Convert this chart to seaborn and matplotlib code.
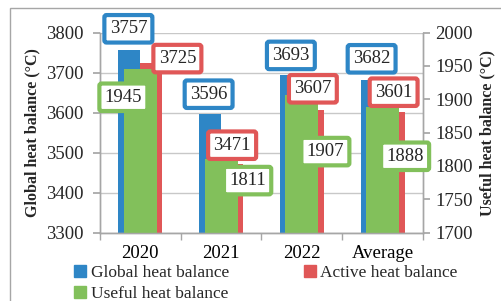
import numpy as np
import pandas as pd
import matplotlib
matplotlib.use('Agg')
import matplotlib.pyplot as plt
from matplotlib.patches import Patch, Rectangle
import seaborn as sns

# data
years = ['2020', '2021', '2022', 'Average']
global_heat = [3757, 3596, 3693, 3682]
active_heat = [3725, 3471, 3607, 3601]
useful_heat = [1945, 1811, 1907, 1888]

BLUE = '#2E86C6'
RED = '#E05757'
GREEN = '#82C05B'
GRID = '#C8C8C8'
SPINE = '#A6A6A6'

sns.set_theme(style='white')
plt.rcParams['font.family'] = ['Liberation Serif', 'DejaVu Serif']

df = pd.DataFrame({
    'year': years * 2,
    'value': global_heat + active_heat,
    'series': ['Global heat balance'] * 4 + ['Active heat balance'] * 4,
})

fig = plt.figure(figsize=(5.02, 3.01), dpi=100)
ax = fig.add_axes([100 / 502, 1 - 232.6 / 301, 323 / 502, 200 / 301])

sns.barplot(data=df, x='year', y='value', hue='series', order=years,
            hue_order=['Global heat balance', 'Active heat balance'],
            palette=[BLUE, RED], width=0.545, saturation=1, errorbar=None,
            linewidth=0, edgecolor='none', ax=ax, zorder=2)
ax.get_legend().remove()

ax2 = ax.twinx()
sns.barplot(x=years, y=useful_heat, order=years, color=GREEN, width=0.41,
            saturation=1, errorbar=None, linewidth=0, edgecolor='none',
            ax=ax2, zorder=2)

ax.set_ylim(3300, 3800)
ax.set_yticks(np.arange(3300, 3801, 100))
ax2.set_ylim(1700, 2000)
ax2.set_yticks(np.arange(1700, 2001, 50))
ax.set_xlim(-0.5, 3.5)
ax2.set_xlim(-0.5, 3.5)

ax.yaxis.grid(True, color=GRID, lw=1)
ax.set_axisbelow(True)
ax.set_xlabel('')
ax2.set_xlabel('')

for a in (ax, ax2):
    for s in a.spines.values():
        s.set_color(SPINE)
        s.set_linewidth(1)
    a.spines['top'].set_visible(False)

ax.set_xticks(range(4))
ax.set_xticklabels(years)
ax.set_xticks(np.arange(-0.5, 4, 1), minor=True)
ax.tick_params(axis='x', which='major', length=0, pad=9, labelsize=13.5, colors='black')
ax.tick_params(axis='x', which='minor', length=5, color=SPINE, direction='out', bottom=True)
ax.tick_params(axis='y', length=5, color=SPINE, direction='out', left=True, labelsize=13.5, pad=7)
ax2.tick_params(axis='y', length=5, color=SPINE, direction='out', right=True, labelsize=13.5, pad=4)

ax.set_ylabel('Global heat balance (°C)', fontsize=11.5, fontweight='bold')
ax2.set_ylabel('Useful heat balance (°C)', fontsize=11.5, fontweight='bold')
ax.yaxis.set_label_coords(-0.186, 0.5)
ax2.yaxis.set_label_coords(1.176, 0.5)

# label offsets in pixels (dx, dy up) from top centre of each bar
blue_off = [(-1, 21), (-1.5, 20), (0, 20), (0, 21)]
red_off = [(26, 4), (0, 19), (0, 21), (0, 20)]
green_off = [(-17, -28), (26.5, -22), (23.5, -57), (22.5, -49)]
px = 0.72
dodge = 0.545 / 4


def box(color):
    return dict(boxstyle='round,pad=0.28,rounding_size=0.12', fc='white',
                ec=color, lw=3)


for i in range(4):
    ax2.annotate(str(global_heat[i]), xy=(i - dodge, global_heat[i]),
                 xycoords=ax.transData, xytext=(blue_off[i][0] * px, blue_off[i][1] * px),
                 textcoords='offset points', ha='center', va='center',
                 fontsize=13.5, bbox=box(BLUE), zorder=5)
    ax2.annotate(str(active_heat[i]), xy=(i + dodge, active_heat[i]),
                 xycoords=ax.transData, xytext=(red_off[i][0] * px, red_off[i][1] * px),
                 textcoords='offset points', ha='center', va='center',
                 fontsize=13.5, bbox=box(RED), zorder=5)
    ax2.annotate(str(useful_heat[i]), xy=(i, useful_heat[i]),
                 xycoords=ax2.transData, xytext=(green_off[i][0] * px, green_off[i][1] * px),
                 textcoords='offset points', ha='center', va='center',
                 fontsize=13.5, bbox=box(GREEN), zorder=5)

handles = [Patch(color=BLUE, label='Global heat balance'),
           Patch(color=GREEN, label='Useful heat balance'),
           Patch(color=RED, label='Active heat balance')]
fig.legend(handles=handles, ncol=2, loc='upper left', bbox_to_anchor=(148 / 1000, 0.12),
           frameon=False, fontsize=12.5, handlelength=0.7, handleheight=0.7,
           handletextpad=0.25, columnspacing=4.3, labelspacing=0.28,
           borderaxespad=0, borderpad=0)

fig.patches.append(Rectangle((9.5 / 502, -0.05), 1.1, 1.05 - 8 / 301,
                             transform=fig.transFigure, fill=False,
                             ec=SPINE, lw=1))

fig.savefig('out.png', dpi=100)
